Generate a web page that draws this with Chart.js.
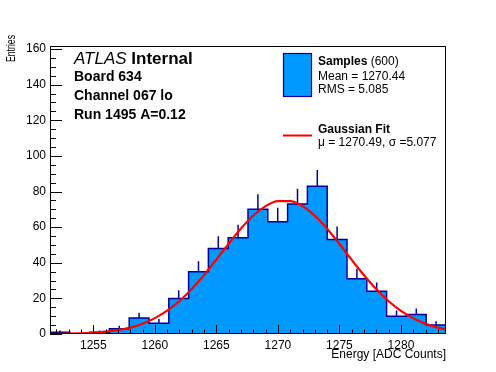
<!DOCTYPE html>
<html>
<head>
<meta charset="utf-8">
<script src="https://cdn.jsdelivr.net/npm/chart.js@4.4.1/dist/chart.umd.min.js"></script>
<style>
  html, body { margin: 0; padding: 0; background: #fff; }
  canvas { display: block; }
</style>
</head>
<body>
<canvas id="histChart" width="496" height="372"></canvas>
<script>
// --- datos del histograma (20 bins) ---
const xRange = [1251.48, 1283.66];
const yRange = [0, 161.7];
const binLow = 1251.48;
const binWidth = 1.609;
const counts = [1, 0, 1, 3, 9, 6, 20, 35, 48, 54, 70, 63, 73, 83, 53, 31, 24, 10, 11, 5];
const countErrors = [1, 0, 1, 1.7, 3, 2.4, 4.5, 5.9, 6.9, 7.3, 8.4, 7.9, 8.5, 9.1, 7.3, 5.6, 4.9, 3.2, 3.3, 2.2];

// curva del ajuste gaussiano
const fitX = [1251.48, 1252, 1253, 1254, 1255, 1256, 1257, 1258, 1259, 1260, 1261, 1262, 1263, 1264, 1265, 1266, 1267,
  1268, 1269, 1270, 1271, 1272, 1273, 1274, 1275, 1276, 1277, 1278, 1279, 1280, 1281, 1282, 1283, 1283.66];
const fitY = [0.1, 0.1, 0.2, 0.4, 0.7, 1.3, 2.2, 3.6, 5.8, 8.9, 13.1, 18.5, 25.3, 33.1, 41.8, 50.7, 59.2,
  66.5, 71.8, 74.6, 74.6, 71.8, 66.4, 59.1, 50.5, 41.6, 33.0, 25.1, 18.4, 13.0, 8.8, 5.7, 3.6, 2.6];

const xTicks = [1255, 1260, 1265, 1270, 1275, 1280];
const yTicks = [0, 20, 40, 60, 80, 100, 120, 140, 160];

const FONT = '"Liberation Sans", Arial, Helvetica, sans-serif';
const fillBlue = '#0099ff';
const lineNavy = '#000099';
const fitRed = '#ff0000';

function histPoints() {
  const pts = [{ x: binLow, y: 0 }];
  counts.forEach((c, i) => pts.push({ x: binLow + i * binWidth, y: c }));
  const hi = binLow + counts.length * binWidth;
  pts.push({ x: hi, y: counts[counts.length - 1] });
  pts.push({ x: hi, y: 0 });
  return pts;
}

function errorPoints() {
  const pts = [];
  counts.forEach((c, i) => {
    if (countErrors[i] <= 0) return;
    const xc = binLow + (i + 0.5) * binWidth;
    pts.push({ x: xc, y: c });
    pts.push({ x: xc, y: c + countErrors[i] });
    pts.push({ x: xc, y: null });
  });
  return pts;
}

const fitPoints = fitX.map((x, i) => ({ x: x, y: fitY[i] }));

// ejes estilo ROOT: marco, ticks hacia dentro, titulos y leyenda
const rootStyle = {
  id: 'rootStyle',
  afterDatasetsDraw(chart) {
    const { ctx, chartArea: a, scales } = chart;
    const xs = scales.x, ys = scales.y;
    ctx.save();
    ctx.strokeStyle = '#000';
    ctx.lineWidth = 1;
    ctx.beginPath();
    // ticks eje x
    for (let v = Math.ceil(xRange[0]); v <= xRange[1]; v++) {
      const px = Math.round(xs.getPixelForValue(v)) + 0.5;
      const len = v % 5 === 0 ? 9 : 4.5;
      ctx.moveTo(px, a.bottom);
      ctx.lineTo(px, a.bottom - len);
    }
    // ticks eje y
    for (let v = 0; v <= yRange[1]; v += 5) {
      const py = Math.round(ys.getPixelForValue(v)) + 0.5;
      const len = v % 20 === 0 ? 12 : 6;
      ctx.moveTo(a.left, py);
      ctx.lineTo(a.left + len, py);
    }
    ctx.stroke();
    ctx.strokeRect(a.left + 0.5, a.top + 0.5, a.right - a.left - 1, a.bottom - a.top - 1);

    ctx.fillStyle = '#000';
    ctx.textBaseline = 'alphabetic';

    // titulos de los ejes
    ctx.font = '12px ' + FONT;
    ctx.textAlign = 'right';
    ctx.fillText('Energy [ADC Counts]', a.right, 358);
    ctx.save();
    ctx.translate(14.5, 35);
    ctx.rotate(-Math.PI / 2);
    const wEnt = ctx.measureText('Entries').width;
    ctx.scale(27 / wEnt, 1);
    ctx.fillText('Entries', 0, 0);
    ctx.restore();

    // etiquetas
    ctx.textAlign = 'left';
    ctx.font = 'italic 17px ' + FONT;
    ctx.fillText('ATLAS', 74, 64);
    const wAtlas = ctx.measureText('ATLAS ').width;
    ctx.font = 'bold 17px ' + FONT;
    ctx.fillText('Internal', 74 + wAtlas, 64);
    ctx.font = 'bold 14px ' + FONT;
    ctx.fillText('Board 634', 74, 81);
    ctx.fillText('Channel 067 lo', 74, 100);
    ctx.fillText('Run 1495 A=0.12', 74, 118.5);

    // leyenda
    ctx.fillStyle = fillBlue;
    ctx.fillRect(283.5, 53.5, 28, 43);
    ctx.strokeStyle = lineNavy;
    ctx.lineWidth = 1.2;
    ctx.strokeRect(283.5, 53.5, 28, 43);
    ctx.strokeStyle = fitRed;
    ctx.lineWidth = 2;
    ctx.beginPath();
    ctx.moveTo(283, 135.5);
    ctx.lineTo(312, 135.5);
    ctx.stroke();

    ctx.fillStyle = '#000';
    ctx.font = 'bold 12px ' + FONT;
    ctx.fillText('Samples', 318, 65);
    const wSamp = ctx.measureText('Samples ').width;
    ctx.font = '12px ' + FONT;
    ctx.fillText('(600)', 318 + wSamp, 65);
    ctx.fillText('Mean = 1270.44', 318, 80);
    ctx.fillText('RMS = 5.085', 318, 93);
    ctx.font = 'bold 12px ' + FONT;
    ctx.fillText('Gaussian Fit', 318, 133);
    ctx.font = '12px ' + FONT;
    ctx.fillText('\u03bc = 1270.49, \u03c3 =5.077', 318, 145.5);
    ctx.restore();
  }
};

const ctx = document.getElementById('histChart').getContext('2d');

new Chart(ctx, {
  type: 'line',
  data: {
    datasets: [
      {
        label: 'Gaussian Fit',
        data: fitPoints,
        borderColor: fitRed,
        borderWidth: 2.2,
        pointRadius: 0,
        cubicInterpolationMode: 'monotone',
        fill: false,
        order: 0
      },
      {
        label: 'errors',
        data: errorPoints(),
        borderColor: lineNavy,
        borderWidth: 1.5,
        pointRadius: 0,
        spanGaps: false,
        fill: false,
        order: 1
      },
      {
        label: 'Samples',
        data: histPoints(),
        stepped: 'before',
        borderColor: lineNavy,
        borderWidth: 1.5,
        backgroundColor: fillBlue,
        pointRadius: 0,
        fill: 'origin',
        order: 2
      }
    ]
  },
  options: {
    responsive: false,
    animation: false,
    events: [],
    layout: { padding: { top: 46, right: 50, left: 0, bottom: 0 } },
    plugins: {
      legend: { display: false },
      tooltip: { enabled: false }
    },
    scales: {
      x: {
        type: 'linear',
        min: xRange[0],
        max: xRange[1],
        grid: { display: false, drawTicks: false },
        border: { display: false },
        ticks: {
          color: '#000',
          font: { family: FONT, size: 12 },
          padding: 4,
          maxRotation: 0,
          autoSkip: false,
          callback: v => String(v)
        },
        afterBuildTicks: s => { s.ticks = xTicks.map(v => ({ value: v })); },
        afterFit: s => { s.height = 38; }
      },
      y: {
        type: 'linear',
        min: yRange[0],
        max: yRange[1],
        grid: { display: false, drawTicks: false },
        border: { display: false },
        ticks: {
          color: '#000',
          font: { family: FONT, size: 12 },
          padding: 4,
          autoSkip: false,
          callback: v => String(v)
        },
        afterBuildTicks: s => { s.ticks = yTicks.map(v => ({ value: v })); },
        afterFit: s => { s.width = 50; }
      }
    }
  },
  plugins: [rootStyle]
});
</script>
</body>
</html>
